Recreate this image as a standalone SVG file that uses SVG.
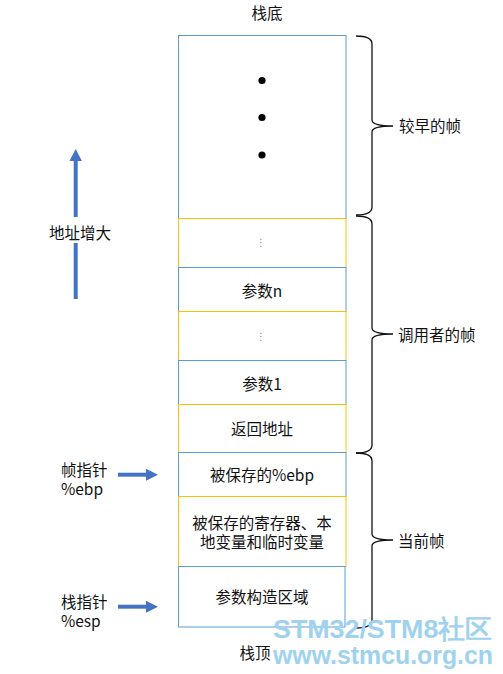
<svg xmlns="http://www.w3.org/2000/svg" width="503" height="674" viewBox="0 0 503 674">
<defs>
<style>
text{font-family:"Noto Sans CJK SC","Noto Sans",sans-serif;font-size:15.5px;fill:#111;dominant-baseline:central}
.c{text-anchor:middle}
.b{fill:#fff;stroke:#5B9BD5;stroke-width:1}
.y{fill:#fff;stroke:#FFC000;stroke-width:1}
.br{fill:none;stroke:#111;stroke-width:1.3}
.ar{stroke:#4472C4;stroke-width:4;fill:none}
.ah{fill:#4472C4}
.el{font-family:"DejaVu Sans",sans-serif;font-size:10px;fill:#888}
.wm{font-family:"Liberation Sans",Arial,sans-serif;font-weight:bold;font-size:26px;fill:#9ED2EE;dominant-baseline:auto}
</style>
</defs>
<rect width="503" height="674" fill="#fff"/>
<text id="bottom-label" class="c" x="267" y="12">栈底</text>
<text id="top-label" class="c" x="255" y="652">栈顶</text>
<g id="n-early"><rect class="b" x="178.5" y="35.5" width="167.5" height="183"/>
<circle cx="262" cy="80.5" r="3.6" fill="#000"/><circle cx="262" cy="117.5" r="3.6" fill="#000"/><circle cx="262" cy="155" r="3.6" fill="#000"/></g>
<g id="n-dots1"><rect class="y" x="178.5" y="218.5" width="167.5" height="49"/><text class="el c" x="261" y="242">⋮</text></g>
<g id="n-argn"><rect class="b" x="178.5" y="267.5" width="167.5" height="44"/><text class="c" x="262" y="289.5">参数n</text></g>
<g id="n-dots2"><rect class="y" x="178.5" y="311.5" width="167.5" height="49"/><text class="el c" x="261" y="336">⋮</text></g>
<g id="n-arg1"><rect class="b" x="178.5" y="360.5" width="167.5" height="44"/><text class="c" x="262" y="382.5">参数1</text></g>
<g id="n-ret"><rect class="y" x="178.5" y="404.5" width="167.5" height="48"/><text class="c" x="262" y="428">返回地址</text></g>
<g id="n-ebp"><rect class="b" x="178.5" y="452.5" width="167.5" height="44"/><text class="c" x="262" y="474">被保存的%ebp</text></g>
<g id="n-regs"><rect class="y" x="178.5" y="496.5" width="167.5" height="70"/><text class="c" x="262" y="522">被保存的寄存器、本<tspan x="262" dy="19">地变量和临时变量</tspan></text></g>
<g id="n-argbuild"><rect class="b" x="178.5" y="566.5" width="166.5" height="60.5"/><text class="c" x="262" y="596">参数构造区域</text></g>
<g id="connectors">
<path class="br" d="M356,36 Q372,36 372,44 L372,120 Q372,126 393,126 Q372,126 372,132 L372,207 Q372,215 356,215"/>
<path class="br" d="M356,216 Q372,216 372,224 L372,328 Q372,334 393,334 Q372,334 372,340 L372,445 Q372,453 356,453"/>
<path class="br" d="M356,453 Q372,453 372,461 L372,534 Q372,540 393,540 Q372,540 372,546 L372,620 Q372,628 356,628"/>
<line class="ar" x1="75.7" y1="299" x2="75.7" y2="243"/>
<line class="ar" x1="75.7" y1="217" x2="75.7" y2="158"/>
<polygon class="ah" points="75.7,149 69.5,161 81.9,161"/>
<line class="ar" x1="118" y1="474.7" x2="148" y2="474.7"/>
<polygon class="ah" points="158,474.7 146,468.7 146,480.7"/>
<line class="ar" x1="118" y1="606.7" x2="148" y2="606.7"/>
<polygon class="ah" points="158,606.7 146,600.7 146,612.7"/>
</g>
<text id="l-early" x="399" y="125">较早的帧</text>
<text id="l-caller" x="398" y="334">调用者的帧</text>
<text id="l-current" x="398" y="540">当前帧</text>
<text id="l-addr" class="c" x="80" y="232">地址增大</text>
<text id="l-fp" x="61" y="469">帧指针<tspan x="61" dy="19">%ebp</tspan></text>
<text id="l-sp" x="61" y="601">栈指针<tspan x="61" dy="18.5">%esp</tspan></text>
<g id="watermark">
<text class="wm" x="273" y="638" textLength="219" lengthAdjust="spacingAndGlyphs">STM32/STM8社区</text>
<text class="wm" x="273" y="664" textLength="220" lengthAdjust="spacingAndGlyphs">www.stmcu.org.cn</text>
</g>
</svg>
